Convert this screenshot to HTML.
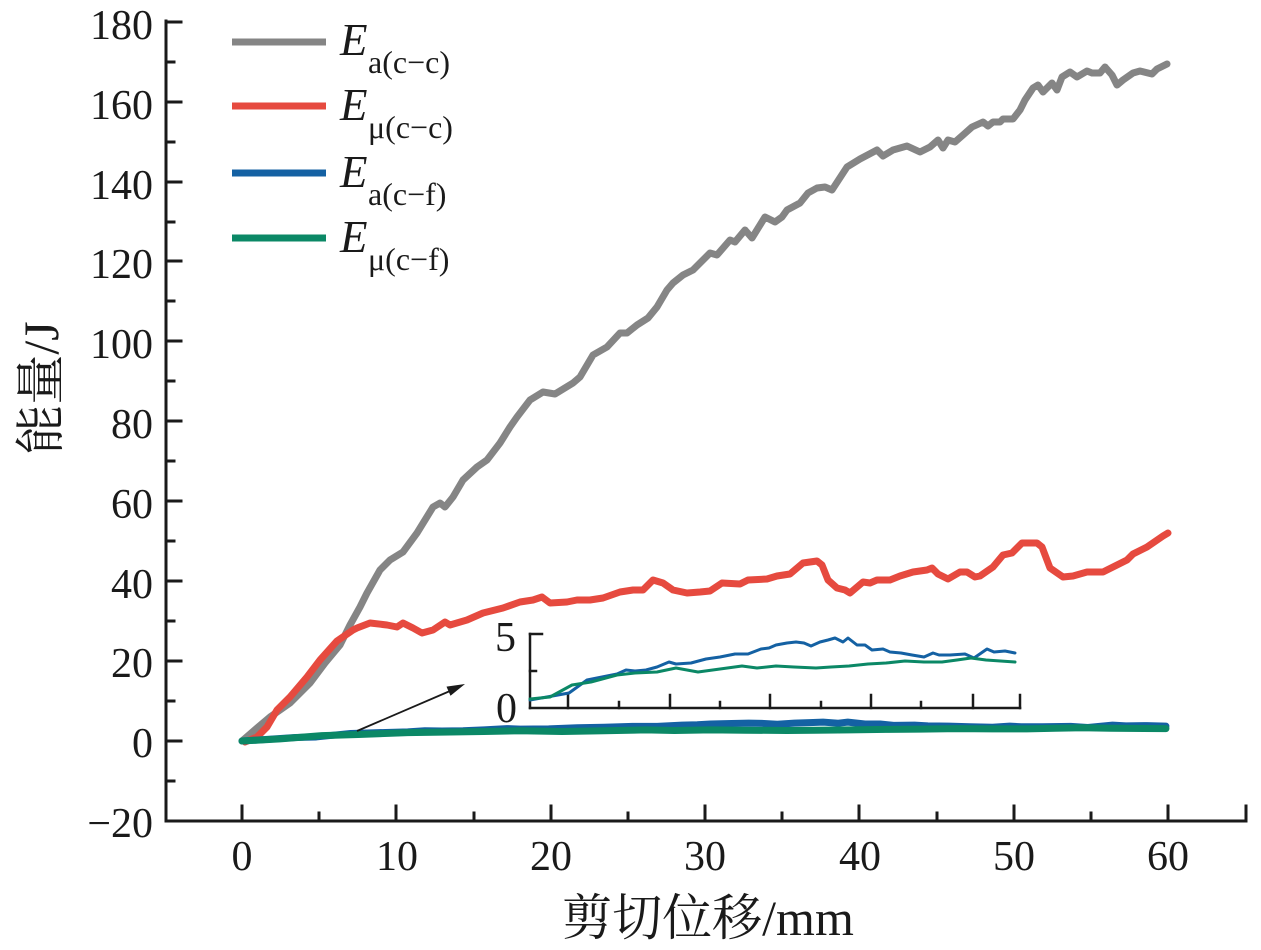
<!DOCTYPE html>
<html>
<head>
<meta charset="utf-8">
<style>
  html, body { margin:0; padding:0; background:#ffffff; }
  svg { display:block; }
  text { font-family: "Liberation Serif", "Noto Serif CJK SC", serif; fill:#1a1a1a; }
</style>
</head>
<body>
<svg width="1261" height="950" viewBox="0 0 1261 950" xmlns="http://www.w3.org/2000/svg">
  <rect width="1261" height="950" fill="#ffffff"/>

  <!-- Main axes -->
  <g stroke="#1a1a1a" stroke-width="3" fill="none" stroke-linecap="square">
    <line x1="166" y1="21" x2="166" y2="821"/>
    <line x1="166" y1="821" x2="1246" y2="821"/>
    <!-- y major ticks -->
    <line x1="166" y1="22" x2="181" y2="22"/>
    <line x1="166" y1="102" x2="181" y2="102"/>
    <line x1="166" y1="182" x2="181" y2="182"/>
    <line x1="166" y1="261" x2="181" y2="261"/>
    <line x1="166" y1="341" x2="181" y2="341"/>
    <line x1="166" y1="421" x2="181" y2="421"/>
    <line x1="166" y1="501" x2="181" y2="501"/>
    <line x1="166" y1="581" x2="181" y2="581"/>
    <line x1="166" y1="661" x2="181" y2="661"/>
    <line x1="166" y1="741" x2="181" y2="741"/>
    <!-- y minor ticks -->
    <line x1="166" y1="62" x2="174" y2="62"/>
    <line x1="166" y1="142" x2="174" y2="142"/>
    <line x1="166" y1="222" x2="174" y2="222"/>
    <line x1="166" y1="301" x2="174" y2="301"/>
    <line x1="166" y1="381" x2="174" y2="381"/>
    <line x1="166" y1="461" x2="174" y2="461"/>
    <line x1="166" y1="541" x2="174" y2="541"/>
    <line x1="166" y1="621" x2="174" y2="621"/>
    <line x1="166" y1="701" x2="174" y2="701"/>
    <line x1="166" y1="781" x2="174" y2="781"/>
    <!-- x major ticks -->
    <line x1="242" y1="821" x2="242" y2="806"/>
    <line x1="396" y1="821" x2="396" y2="806"/>
    <line x1="551" y1="821" x2="551" y2="806"/>
    <line x1="705" y1="821" x2="705" y2="806"/>
    <line x1="859" y1="821" x2="859" y2="806"/>
    <line x1="1014" y1="821" x2="1014" y2="806"/>
    <line x1="1168" y1="821" x2="1168" y2="806"/>
    <line x1="1246" y1="821" x2="1246" y2="806"/>
    <!-- x minor ticks -->
    <line x1="319" y1="821" x2="319" y2="813"/>
    <line x1="474" y1="821" x2="474" y2="813"/>
    <line x1="628" y1="821" x2="628" y2="813"/>
    <line x1="782" y1="821" x2="782" y2="813"/>
    <line x1="937" y1="821" x2="937" y2="813"/>
    <line x1="1091" y1="821" x2="1091" y2="813"/>
  </g>

  <!-- y tick labels -->
  <g font-size="42" text-anchor="end">
    <text x="153" y="39">180</text>
    <text x="153" y="119">160</text>
    <text x="153" y="199">140</text>
    <text x="153" y="278">120</text>
    <text x="153" y="358">100</text>
    <text x="153" y="438">80</text>
    <text x="153" y="518">60</text>
    <text x="153" y="598">40</text>
    <text x="153" y="677">20</text>
    <text x="153" y="757">0</text>
    <text x="153" y="837">−20</text>
  </g>

  <!-- x tick labels -->
  <g font-size="42" text-anchor="middle">
    <text x="242" y="870">0</text>
    <text x="397" y="870">10</text>
    <text x="551" y="870">20</text>
    <text x="705" y="870">30</text>
    <text x="860" y="870">40</text>
    <text x="1014" y="870">50</text>
    <text x="1168" y="870">60</text>
  </g>

  <!-- axis titles -->
  <text x="708" y="935" font-size="50" text-anchor="middle">剪切位移/mm</text>
  <text transform="translate(58,388) rotate(-90)" font-size="50" text-anchor="middle">能量/J</text>

  <!-- Gray series -->
  <polyline fill="none" stroke="#858585" stroke-width="7" stroke-linejoin="round" stroke-linecap="round"
    points="242,741 257,728 270,717 290,703 310,683 325,663 340,645 350,625 360,607 367,593 380,570 390,560 403,552 417,533 433,507 440,503 445,507 453,497 463,480 477,467 487,460 500,443 510,427 517,417 530,400 543,392 555,394 573,383 580,377 593,355 607,347 620,333 627,333 637,325 648,318 657,307 667,290 673,283 683,275 693,270 700,263 710,253 717,255 730,240 735,242 745,230 752,238 765,217 775,222 782,217 787,210 800,203 808,193 817,188 825,187 832,190 847,167 860,159 877,150 883,156 893,150 907,146 920,152 930,147 938,140 943,148 948,140 955,142 963,135 972,127 983,122 988,126 993,122 1000,122 1003,119 1013,119 1020,110 1025,100 1033,88 1038,85 1043,92 1052,83 1057,90 1062,77 1070,72 1077,77 1087,71 1092,73 1100,73 1105,67 1112,75 1117,85 1123,80 1133,73 1140,71 1152,74 1157,69 1167,64"/>

  <!-- Red series -->
  <polyline fill="none" stroke="#e64a3f" stroke-width="7" stroke-linejoin="round" stroke-linecap="round"
    points="245,742 257,737 267,727 277,710 290,697 307,677 320,660 337,641 353,630 357,628 370,623 387,625 397,627 403,623 413,628 422,633 433,630 445,622 450,625 467,620 483,613 503,608 520,602 533,600 542,597 550,603 567,602 577,600 590,600 603,598 620,592 633,590 643,590 653,580 663,583 673,590 687,593 700,592 710,591 722,583 740,584 748,580 767,579 777,576 790,574 803,563 817,561 822,565 828,580 837,588 845,590 850,593 863,582 870,583 877,580 890,580 900,576 913,572 927,570 932,568 938,574 948,579 960,572 967,572 975,577 980,576 993,567 1003,555 1012,553 1022,543 1037,543 1042,547 1050,568 1063,577 1073,576 1087,572 1103,572 1117,565 1127,560 1133,554 1147,547 1163,536 1168,533"/>

  <!-- Main blue/green (inset coordinates mapped to main) -->
  <g transform="matrix(1.905 0 0 0.27 -767.65 549.84)">
    <polyline fill="none" stroke="#1461a3" stroke-width="7" vector-effect="non-scaling-stroke" stroke-linejoin="round" stroke-linecap="round"
      points="530,708 558,695 569,693 587,680 602,677 617,674 626,670 635,671 646,670 657,667 669,662 676,664 691,663 706,659 720,657 735,654 748,654 761,649 769,648 776,645 787,643 796,642 804,643 811,646 820,642 828,640 835,638 843,642 848,638 857,645 865,645 872,650 883,649 890,652 901,653 912,655 924,657 933,653 939,655 950,655 965,654 974,658 987,649 994,652 1005,651 1015,653"/>
    <polyline fill="none" stroke="#0b8866" stroke-width="7" vector-effect="non-scaling-stroke" stroke-linejoin="round" stroke-linecap="round"
      points="530,708 550,700 572,688 591,684 617,677 635,675 657,673 676,670 698,673 720,670 742,667 757,669 776,667 794,668 816,669 831,668 849,667 868,665 886,664 905,662 924,663 942,663 957,661 971,659 986,661 1015,662"/>
  </g>

  <!-- Arrow -->
  <line x1="357" y1="731" x2="450" y2="691" stroke="#1a1a1a" stroke-width="1.8"/>
  <polygon points="465,684 450.5,695.8 446.5,686.6" fill="#1a1a1a"/>

  <!-- Inset -->
  <g stroke="#1a1a1a" stroke-width="2.5" fill="none" stroke-linecap="square">
    <line x1="530" y1="634" x2="530" y2="708"/>
    <line x1="530" y1="708" x2="1020" y2="708"/>
    <line x1="530" y1="634" x2="542" y2="634"/>
    <line x1="530" y1="671" x2="536" y2="671"/>
    <line x1="568" y1="708" x2="568" y2="695"/>
    <line x1="670" y1="708" x2="670" y2="695"/>
    <line x1="770" y1="708" x2="770" y2="695"/>
    <line x1="871" y1="708" x2="871" y2="695"/>
    <line x1="973" y1="708" x2="973" y2="695"/>
    <line x1="1020" y1="708" x2="1020" y2="695"/>
    <line x1="619" y1="708" x2="619" y2="702"/>
    <line x1="720" y1="708" x2="720" y2="702"/>
    <line x1="821" y1="708" x2="821" y2="702"/>
    <line x1="921" y1="708" x2="921" y2="702"/>
  </g>
  <text x="516" y="651" font-size="42" text-anchor="end">5</text>
  <text x="517" y="722" font-size="42" text-anchor="end">0</text>

  <polyline fill="none" stroke="#1461a3" stroke-width="3" stroke-linejoin="round" stroke-linecap="round"
    points="530,700 558,695 569,693 587,680 602,677 617,674 626,670 635,671 646,670 657,667 669,662 676,664 691,663 706,659 720,657 735,654 748,654 761,649 769,648 776,645 787,643 796,642 804,643 811,646 820,642 828,640 835,638 843,642 848,638 857,645 865,645 872,650 883,649 890,652 901,653 912,655 924,657 933,653 939,655 950,655 965,654 974,658 987,649 994,652 1005,651 1015,653"/>
  <polyline fill="none" stroke="#0b8866" stroke-width="3" stroke-linejoin="round" stroke-linecap="round"
    points="530,699 550,697 572,685 591,682 617,675 635,673 657,672 676,668 698,672 720,669 742,666 757,668 776,666 794,667 816,668 831,667 849,666 868,664 886,663 905,661 924,662 942,662 957,660 971,658 986,660 1015,662"/>

  <!-- Legend -->
  <g stroke-width="7">
    <line x1="232" y1="42" x2="326" y2="42" stroke="#858585"/>
    <line x1="232" y1="106" x2="326" y2="106" stroke="#e64a3f"/>
    <line x1="232" y1="173" x2="326" y2="173" stroke="#1461a3"/>
    <line x1="232" y1="238" x2="326" y2="238" stroke="#0b8866"/>
  </g>
  <g>
    <text x="340" y="55" font-size="45" font-style="italic">E</text>
    <text x="368" y="73" font-size="32">a(c−c)</text>
    <text x="340" y="120" font-size="45" font-style="italic">E</text>
    <text x="368" y="138" font-size="32">μ(c−c)</text>
    <text x="340" y="187" font-size="45" font-style="italic">E</text>
    <text x="368" y="205" font-size="32">a(c−f)</text>
    <text x="340" y="252" font-size="45" font-style="italic">E</text>
    <text x="368" y="270" font-size="32">μ(c−f)</text>
  </g>
</svg>
</body>
</html>
